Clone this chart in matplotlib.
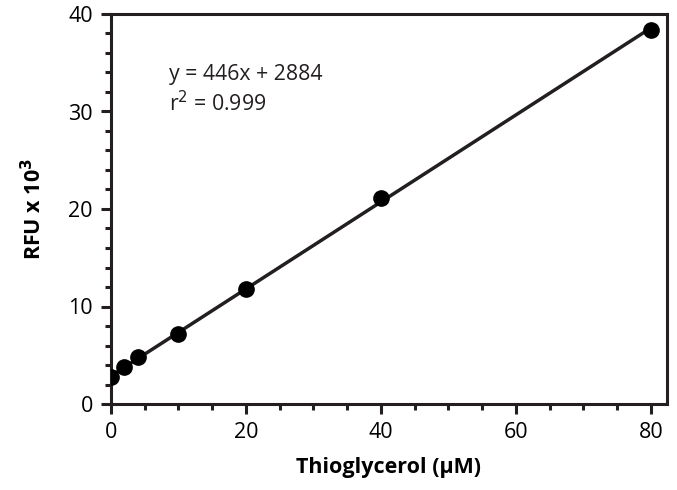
import matplotlib
matplotlib.use('Agg')
import matplotlib.pyplot as plt
import numpy as np
from matplotlib.ticker import MultipleLocator

matplotlib.rc('font', family=['Open Sans', 'DejaVu Sans'], size=13)

K = '#231f20'

# Data
conc = np.array([0, 2, 4, 10, 20, 40, 80])
rfu = np.array([2.8, 3.8, 4.8, 7.2, 11.8, 21.1, 38.4])
slope = 0.446
intercept = 2.884

fig = plt.figure(figsize=(6.77, 4.9), dpi=100)
ax = fig.add_axes([111/677, 1-404/490, (667-111)/677, (404-14)/490])

xfit = np.array([0, 80])
ax.plot(xfit, slope*xfit + intercept, color=K, lw=2.5, zorder=2)
ax.plot(conc, rfu, 'o', color='black', markersize=11, zorder=3)

ax.set_xlim(0, 82.4)
ax.set_ylim(0, 40)
ax.xaxis.set_major_locator(MultipleLocator(20))
ax.xaxis.set_minor_locator(MultipleLocator(5))
ax.yaxis.set_major_locator(MultipleLocator(10))
ax.yaxis.set_minor_locator(MultipleLocator(2))
ax.tick_params(which='major', direction='out', length=7, width=2.2, color=K, labelsize=15.5, pad=6)
ax.tick_params(which='minor', direction='out', length=4, width=2.2, color=K)
for s in ax.spines.values():
    s.set_linewidth(2.2)
    s.set_color(K)

ax.set_xlabel('Thioglycerol (µM)', fontsize=15.5, fontweight='bold', labelpad=10)
ax.set_ylabel('RFU x 10$^\\mathbf{3}$', fontsize=15.5, fontweight='bold', labelpad=16)

ax.text(0.105, 0.83, 'y = 446x + 2884', transform=ax.transAxes, fontsize=15.3, color=K)
ax.text(0.105, 0.75, 'r$^2$ = 0.999', transform=ax.transAxes, fontsize=15.3, color=K)

plt.savefig('out.png', dpi=100)
plt.close()
